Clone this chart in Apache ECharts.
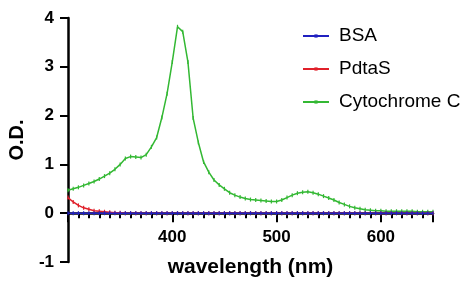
<!DOCTYPE html>
<html>
<head>
<meta charset="utf-8">
<script src="https://cdn.jsdelivr.net/npm/echarts@6/dist/echarts.min.js"></script>
<style>
  html, body { margin: 0; padding: 0; background: #fff; }
  #chart { width: 472px; height: 285px; }
</style>
</head>
<body>
<div id="chart"></div>
<script>
  // wavelength (nm), 5 nm steps
  var wavelength = [300, 305, 310, 315, 320, 325, 330, 335, 340, 345,
    350, 355, 360, 365, 370, 375, 380, 385, 390, 395,
    400, 405, 410, 415, 420, 425, 430, 435, 440, 445,
    450, 455, 460, 465, 470, 475, 480, 485, 490, 495,
    500, 505, 510, 515, 520, 525, 530, 535, 540, 545,
    550, 555, 560, 565, 570, 575, 580, 585, 590, 595,
    600, 605, 610, 615, 620, 625, 630, 635, 640, 645, 650];

  var bsa = [0, 0, 0, 0, 0, 0, 0, 0, 0, 0,
    0, 0, 0, 0, 0, 0, 0, 0, 0, 0,
    0, 0, 0, 0, 0, 0, 0, 0, 0, 0,
    0, 0, 0, 0, 0, 0, 0, 0, 0, 0,
    0, 0, 0, 0, 0, 0, 0, 0, 0, 0,
    0, 0, 0, 0, 0, 0, 0, 0, 0, 0,
    0, 0, 0, 0, 0, 0, 0, 0, 0, 0, 0];

  var pdtas = [0.32, 0.23, 0.16, 0.11, 0.08, 0.05, 0.04, 0.03, 0.02, 0.01,
    0.01, 0, 0, 0, 0, 0, 0, 0, 0, 0,
    0, 0, 0, 0, 0, 0, 0, 0, 0, 0,
    0, 0, 0, 0, 0, 0, 0, 0, 0, 0,
    0, 0, 0, 0, 0, 0, 0, 0, 0, 0,
    0, 0, 0, 0, 0, 0, 0, 0, 0, 0,
    0, 0, 0, 0, 0, 0, 0, 0, 0, 0, 0];

  var cytc = [0.47, 0.50, 0.53, 0.57, 0.61, 0.65, 0.70, 0.76, 0.82, 0.90,
    1.00, 1.12, 1.16, 1.15, 1.14, 1.20, 1.36, 1.55, 1.96, 2.45,
    3.10, 3.82, 3.72, 3.10, 1.95, 1.45, 1.05, 0.84, 0.68, 0.58,
    0.50, 0.42, 0.37, 0.33, 0.30, 0.28, 0.27, 0.26, 0.25, 0.24,
    0.24, 0.27, 0.32, 0.37, 0.41, 0.43, 0.44, 0.42, 0.39, 0.35,
    0.31, 0.27, 0.22, 0.18, 0.14, 0.11, 0.09, 0.07, 0.06, 0.05,
    0.05, 0.04, 0.04, 0.04, 0.04, 0.04, 0.04, 0.03, 0.03, 0.03, 0.03];

  var seriesNames = ['BSA', 'PdtaS', 'Cytochrome C'];
  var yTicks = [-1, 0, 1, 2, 3, 4];

  function pairs(vals) {
    return wavelength.map(function (w, i) { return [w, vals[i]]; });
  }

  var font = '"Liberation Sans", Arial, Helvetica, sans-serif';
  var gridTop = 18, gridBottom = 23, chartH = 285;
  var plotH = chartH - gridTop - gridBottom;
  // x axis sits at O.D. = 0: move it up from the grid bottom by the height of the [-1, 0] band
  var zeroOffset = -plotH * (0 - yTicks[0]) / (yTicks[yTicks.length - 1] - yTicks[0]);

  function makeSeries(name, vals, color, z) {
    return {
      name: name,
      type: 'line',
      data: pairs(vals),
      z: z,
      symbol: 'rect',
      symbolSize: [1.2, 4],
      showSymbol: true,
      itemStyle: { color: color },
      lineStyle: { color: color, width: 1.5 },
      animation: false
    };
  }

  var myChart = echarts.init(document.getElementById('chart'));
  myChart.setOption({
    backgroundColor: '#fff',
    textStyle: { fontFamily: font },
    legend: {
      data: seriesNames,
      orient: 'vertical',
      left: 297,
      top: 21,
      itemWidth: 26,
      itemHeight: 4,
      itemGap: 13,
      textStyle: {
        fontFamily: font,
        fontSize: 19,
        color: '#000',
        lineHeight: 20,
        padding: [0, 0, 0, 5]
      }
    },
    grid: { left: 68, right: 39, top: gridTop, bottom: gridBottom, containLabel: false, outerBoundsMode: 'none' },
    xAxis: {
      type: 'value',
      min: 300,
      max: 650,
      interval: 100,
      position: 'bottom',
      offset: zeroOffset,
      name: 'wavelength (nm)',
      nameLocation: 'middle',
      nameGap: 44,
      nameTextStyle: { fontFamily: font, fontSize: 21, fontWeight: 'bold', color: '#000' },
      axisLine: { onZero: false, lineStyle: { color: '#000', width: 2.5 } },
      axisTick: { show: true, length: 9, lineStyle: { color: '#000', width: 2 } },
      minorTick: { show: true, splitNumber: 10, length: 5, lineStyle: { color: '#000', width: 2 } },
      splitLine: { show: false },
      axisLabel: {
        margin: 16,
        fontFamily: font,
        fontSize: 17,
        fontWeight: 'bold',
        color: '#000',
        formatter: function (v) { return (v === 300 || v === 650) ? '' : String(v); }
      }
    },
    yAxis: {
      type: 'value',
      min: yTicks[0],
      max: yTicks[yTicks.length - 1],
      interval: 1,
      name: 'O.D.',
      nameLocation: 'middle',
      nameRotate: 90,
      nameGap: 40,
      nameTextStyle: { fontFamily: font, fontSize: 20, fontWeight: 'bold', color: '#000' },
      axisLine: { show: true, lineStyle: { color: '#000', width: 2.5 } },
      axisTick: { show: true, length: 8, lineStyle: { color: '#000', width: 2 } },
      splitLine: { show: false },
      axisLabel: { margin: 14, fontFamily: font, fontSize: 17, fontWeight: 'bold', color: '#000' }
    },
    series: [
      makeSeries(seriesNames[2], cytc, '#33b833', 2),
      makeSeries(seriesNames[1], pdtas, '#e0202a', 3),
      makeSeries(seriesNames[0], bsa, '#2020c0', 4)
    ]
  });
</script>
</body>
</html>
